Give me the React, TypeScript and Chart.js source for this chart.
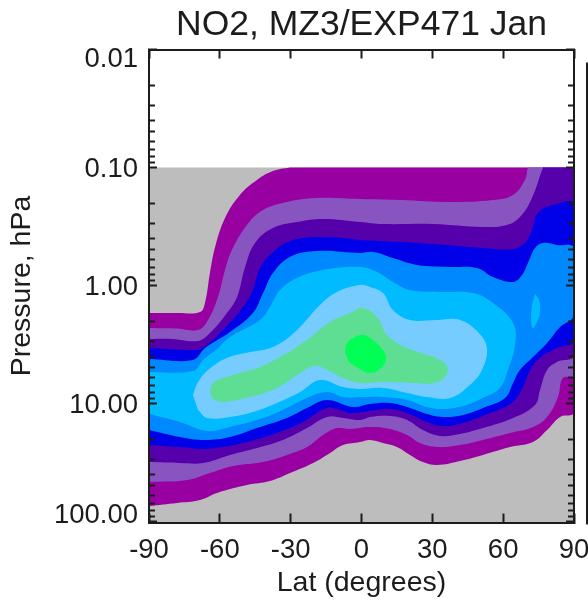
import React, { useEffect, useRef } from "react";
import { Chart, registerables } from "chart.js";

Chart.register(...registerables);

const titleText = "NO2, MZ3/EXP471 Jan";
const xTitle = "Lat (degrees)";
const yTitle = "Pressure, hPa";
const latTicks = [-90, -60, -30, 0, 30, 60, 90];
const latLabels = ["-90", "-60", "-30", "0", "30", "60", "90"];
const pressureTicks = [0.01, 0.1, 1, 10, 100];
const pressureLabels = ["0.01", "0.10", "1.00", "10.00", "100.00"];
const pressureMinor = [0.02, 0.03, 0.04, 0.05, 0.06, 0.07, 0.08, 0.09, 0.2, 0.3, 0.4, 0.5, 0.6, 0.7, 0.8, 0.9, 2, 3, 4, 5, 6, 7, 8, 9, 20, 30, 40, 50, 60, 70, 80, 90];
const latMin = -90;
const latMax = 90;
const pressureMin = 0.01;
const pressureMax = 102;

const noDataLat = [-90, 90, 90, -90];
const noDataLogP = [-1, -1, 2.01, 2.01];

const level1Lat = [-90, -78, -68.4, -66.3, -64.2, -62, -57.8, -51.5, -44.3, -37.5, -30.3, -29.5, 70.5, 88, 90, 90, 90, 84.1, 78.6, 72.6, 62.9, 51.4, 41.7, 32, 26, 20.5, 15, 9.1, 3.6, -0.6, -7.8, -13.3, -20.5, -30.3, -38.8, -48.5, -61.2, -68.4, -78.1, -90];
const level1LogP = [0.233, 0.233, 0.225, 0.148, -0.106, -0.326, -0.572, -0.767, -0.894, -0.97, -1, -1, -1, -1, -1, -0.97, 1.072, 1.114, 1.225, 1.326, 1.369, 1.436, 1.487, 1.521, 1.496, 1.436, 1.369, 1.335, 1.309, 1.326, 1.352, 1.419, 1.504, 1.589, 1.657, 1.691, 1.758, 1.818, 1.843, 1.869];

const level2Lat = [-90, -78, -69.2, -65, -60.8, -57.8, -54.9, -48.5, -41.7, -31.6, -18.9, -0.6, 16.3, 37.5, 55.7, 64.2, 69.2, 70.5, 71, 88, 90, 90, 90, 85.3, 83.2, 78.6, 72.6, 62.9, 51.4, 41.7, 32, 24.8, 19.3, 12.1, 3.6, -4.9, -10.4, -16.3, -23.1, -31.6, -41.7, -54.4, -64.2, -73.9, -90];
const level2LogP = [0.36, 0.365, 0.377, 0.292, 0.097, -0.131, -0.301, -0.513, -0.64, -0.708, -0.742, -0.733, -0.725, -0.708, -0.725, -0.767, -0.894, -1, -1, -1, -1, -0.97, 0.758, 0.784, 0.945, 1.114, 1.199, 1.25, 1.309, 1.352, 1.369, 1.335, 1.267, 1.216, 1.199, 1.216, 1.208, 1.267, 1.369, 1.436, 1.496, 1.53, 1.589, 1.648, 1.665];

const level3Lat = [-90, -80, -69.2, -64.2, -57, -52.7, -49.3, -45.1, -37.5, -27.3, -16.3, -0.6, 9.1, 30.3, 51.4, 61.6, 67.1, 72.2, 76.9, 77.5, 88, 90, 90, 90, 82.8, 78.6, 75.6, 73.5, 64.2, 51.4, 41.7, 33.2, 26, 19.3, 12.1, 3.6, -0.6, -7.8, -14.6, -23.1, -33.3, -44.3, -55.7, -67.1, -76.9, -90];
const level3LogP = [0.453, 0.453, 0.47, 0.403, 0.233, 0.097, -0.157, -0.36, -0.487, -0.538, -0.564, -0.538, -0.521, -0.521, -0.496, -0.513, -0.58, -0.742, -1, -1, -1, -1, -0.97, 0.589, 0.648, 0.716, 0.886, 1.013, 1.123, 1.208, 1.258, 1.275, 1.225, 1.14, 1.106, 1.114, 1.14, 1.123, 1.114, 1.208, 1.309, 1.377, 1.436, 1.504, 1.504, 1.496];

const level4Lat = [-90, -71.4, -67.1, -58.7, -50.2, -46, -43, -37.5, -29, -14.6, -0.6, 9.1, 30.3, 51.4, 64.2, 69.2, 72.2, 74.7, 81.1, 90, 90, 82.8, 75.6, 71.4, 68.4, 64.2, 54.4, 43, 34.5, 27.7, 19.3, 12.1, 3.6, -4.9, -9, -14.6, -24.8, -35.8, -48.5, -58.7, -67.1, -76.9, -90];
const level4LogP = [0.53, 0.547, 0.53, 0.377, 0.182, 0.038, -0.148, -0.284, -0.386, -0.411, -0.386, -0.377, -0.352, -0.318, -0.309, -0.36, -0.47, -0.614, -0.682, -0.69, 0.462, 0.53, 0.614, 0.716, 0.86, 0.987, 1.081, 1.165, 1.191, 1.157, 1.081, 1.047, 1.064, 1.081, 1.055, 1.038, 1.157, 1.25, 1.326, 1.369, 1.386, 1.369, 1.352];

const level5Lat = [-90, -71.4, -66.3, -55.7, -46, -41.7, -37.5, -30.3, -18.9, -0.6, 4.9, 13.3, 23.5, 37.5, 48.9, 55.7, 64.2, 68, 70.5, 73.5, 76.9, 82.8, 90, 90, 84.1, 78.6, 72.2, 67.1, 64.2, 60.8, 51.4, 43, 34.5, 27.7, 20.5, 12.1, 3.6, -3.6, -14.6, -23.1, -31.6, -44.3, -55.7, -66.3, -76.9, -90];
const level5LogP = [0.623, 0.631, 0.53, 0.394, 0.233, 0.064, -0.106, -0.242, -0.292, -0.275, -0.284, -0.233, -0.174, -0.157, -0.148, -0.072, -0.03, -0.089, -0.191, -0.318, -0.36, -0.343, -0.318, 0.25, 0.352, 0.487, 0.614, 0.716, 0.826, 0.953, 1.038, 1.097, 1.114, 1.089, 1.038, 0.996, 1.004, 1.03, 0.97, 1.038, 1.123, 1.208, 1.284, 1.309, 1.284, 1.225];

const level6Lat = [-90, -71.4, -67.1, -61.2, -55.7, -43, -38.8, -34.5, -27.3, -16.3, -0.6, 6.6, 13.3, 20.5, 33.2, 47.2, 55.7, 64.2, 65, 62, 58.6, 51.4, 43, 34.5, 27.7, 19.3, 9.1, -0.6, -7.8, -14.6, -23.1, -31.6, -41.7, -55.7, -65.4, -76.9, -90];
const level6LogP = [0.733, 0.725, 0.631, 0.538, 0.436, 0.292, 0.182, 0.038, -0.064, -0.131, -0.157, -0.114, -0.03, 0.038, 0.055, 0.064, 0.148, 0.318, 0.504, 0.716, 0.869, 0.953, 1.021, 1.047, 1.03, 0.97, 0.945, 0.945, 0.945, 0.903, 0.953, 1.038, 1.123, 1.199, 1.233, 1.157, 1.089];

const islandLat = [73.5, 75.2, 75.6, 74.3, 72.6, 71.8, 72.2];
const islandLogP = [0.072, 0.123, 0.225, 0.309, 0.36, 0.275, 0.165];

const level7Lat = [-71.4, -69.2, -65, -57, -47.2, -37.5, -28.2, -17.6, -10.4, -0.6, 3.6, 9.1, 13.3, 20.5, 32, 41.7, 49.3, 53.1, 51, 45.9, 37.5, 27.7, 19.3, 9.1, -0.6, -7.8, -17.6, -26, -35.8, -46, -55.7, -65.4, -69.2];
const level7LogP = [0.928, 0.818, 0.716, 0.614, 0.564, 0.521, 0.394, 0.165, 0.055, -0.004, 0.013, 0.064, 0.208, 0.292, 0.292, 0.292, 0.394, 0.53, 0.716, 0.843, 0.953, 0.945, 0.911, 0.869, 0.877, 0.86, 0.801, 0.903, 0.996, 1.072, 1.114, 1.123, 1.055];

const level8Lat = [-64.2, -62.9, -54.4, -44.3, -34.5, -23.1, -13.3, -4.9, 0.6, 6.6, 10.8, 19.3, 33.2, 36.6, 32.4, 21.8, 9.1, -0.6, -7.8, -14.6, -19.7, -27.3, -35.8, -47.2, -58.7, -62.9];
const level8LogP = [0.911, 0.826, 0.758, 0.699, 0.606, 0.462, 0.309, 0.233, 0.191, 0.267, 0.419, 0.53, 0.631, 0.716, 0.818, 0.826, 0.818, 0.826, 0.784, 0.716, 0.682, 0.758, 0.869, 0.945, 0.987, 0.962];

const level9Lat = [-7, -6.1, -2.8, 1.1, 5.3, 8.7, 10.4, 8.7, 4, -1.5, -5.3];
const level9LogP = [0.564, 0.487, 0.436, 0.419, 0.47, 0.538, 0.614, 0.691, 0.742, 0.699, 0.648];

const regionLats = [noDataLat, level1Lat, level2Lat, level3Lat, level4Lat, level5Lat, level6Lat, islandLat, level7Lat, level8Lat, level9Lat];
const regionLogPs = [noDataLogP, level1LogP, level2LogP, level3LogP, level4LogP, level5LogP, level6LogP, islandLogP, level7LogP, level8LogP, level9LogP];
const regionColors = ["#bdbdbd", "#9900a1", "#8855c0", "#5500aa", "#0000e8", "#0088ff", "#00bbff", "#00bbff", "#77ccff", "#5dde92", "#00ff55"];

const ink = "#1c1c1c";
const family = "'Liberation Sans', Arial, sans-serif";

function onlyTicks(values: number[]) {
  return (scale: any) => {
    scale.ticks = values.map((value) => ({ value }));
  };
}

function labelFor(values: number[], labels: string[], wrap: boolean) {
  return (value: any) => {
    const i = values.indexOf(Number(value));
    if (i < 0) return "";
    if (wrap && i === 0) return ["", labels[i]];
    if (wrap && i === labels.length - 1) return [labels[i], ""];
    return labels[i];
  };
}

function fitBox(width: number | null, height: number | null) {
  return (s: any) => {
    if (width !== null) s.width = width;
    if (height !== null) s.height = height;
    s.paddingLeft = 0;
    s.paddingRight = 0;
    s.paddingTop = 0;
    s.paddingBottom = 0;
  };
}

const edgeLine = {
  id: "edgeLine",
  afterDraw(chart: any) {
    const { ctx, chartArea } = chart;
    ctx.save();
    ctx.strokeStyle = ink;
    ctx.lineWidth = 2;
    ctx.beginPath();
    ctx.moveTo(chart.width - 1, chartArea.top + 13);
    ctx.lineTo(chart.width - 1, chartArea.bottom + 2);
    ctx.stroke();
    ctx.restore();
  },
};

export default function App() {
  const ref = useRef<HTMLCanvasElement | null>(null);

  useEffect(() => {
    const canvas = ref.current;
    if (!canvas) return;

    const frame = { display: true, color: ink, width: 2, z: 1 };
    const noFrame = { display: false };
    const marks = (length: number) => ({
      drawOnChartArea: false,
      drawTicks: true,
      tickLength: -length,
      tickColor: ink,
      tickWidth: 2,
      z: 1,
    });
    const pressureRange = { type: "logarithmic", reverse: true, min: pressureMin, max: pressureMax };
    const latRange = { type: "linear", min: latMin, max: latMax };
    const hiddenTicks = { display: false, autoSkip: false };

    const chart = new Chart(canvas, {
      type: "scatter",
      data: {
        datasets: regionLats.map((lats, i) => ({
          data: lats.map((lat, j) => ({ x: lat, y: Math.pow(10, regionLogPs[i][j]) })),
          showLine: true,
          fill: "shape",
          backgroundColor: regionColors[i],
          borderWidth: 0,
          pointRadius: 0,
          tension: i === 0 ? 0 : 0.4,
          order: regionLats.length - i,
        })),
      },
      plugins: [edgeLine],
      options: {
        responsive: false,
        animation: false,
        layout: { padding: 0 },
        plugins: { legend: { display: false }, title: { display: false }, tooltip: { enabled: false } },
        scales: {
          x: {
            ...latRange,
            position: "bottom",
            afterBuildTicks: onlyTicks(latTicks),
            afterFit: fitBox(null, 77.5),
            border: frame,
            grid: marks(9),
            title: { display: true, text: xTitle, color: ink, font: { family, size: 28.5 }, padding: { top: 0, bottom: 0 } },
            ticks: {
              z: 1,
              autoSkip: false,
              maxRotation: 0,
              color: ink,
              padding: 20,
              font: { family, size: 27.5 },
              callback: labelFor(latTicks, latLabels, false),
            },
          },
          xTop: {
            ...latRange,
            position: "top",
            afterBuildTicks: onlyTicks(latTicks),
            afterFit: fitBox(null, 49.5),
            border: frame,
            grid: marks(9),
            title: { display: true, text: titleText, color: ink, font: { family, size: 35.5 }, padding: { top: 3.5, bottom: 0 } },
            ticks: hiddenTicks,
          },
          y: {
            ...pressureRange,
            position: "left",
            weight: 1,
            afterBuildTicks: onlyTicks(pressureTicks),
            afterFit: fitBox(149, null),
            border: frame,
            grid: marks(8),
            title: { display: true, text: yTitle, color: ink, font: { family, size: 28.5 }, padding: { top: 5, bottom: 0 } },
            ticks: {
              z: 1,
              autoSkip: false,
              color: ink,
              padding: 19,
              labelOffset: 2,
              font: { family, size: 27.5, lineHeight: "16px" },
              callback: labelFor(pressureTicks, pressureLabels, true),
            },
          },
          yMinor: {
            ...pressureRange,
            position: "left",
            weight: 0,
            afterBuildTicks: onlyTicks(pressureMinor),
            afterFit: fitBox(0, null),
            border: noFrame,
            grid: marks(6),
            ticks: hiddenTicks,
          },
          yRight: {
            ...pressureRange,
            position: "right",
            weight: 1,
            afterBuildTicks: onlyTicks(pressureTicks),
            afterFit: fitBox(14, null),
            border: frame,
            grid: marks(8),
            ticks: hiddenTicks,
          },
          yRightMinor: {
            ...pressureRange,
            position: "right",
            weight: 0,
            afterBuildTicks: onlyTicks(pressureMinor),
            afterFit: fitBox(0, null),
            border: noFrame,
            grid: marks(6),
            ticks: hiddenTicks,
          },
        },
      },
    } as any);

    return () => chart.destroy();
  }, []);

  return (
    <canvas
      ref={ref}
      width={588}
      height={600}
      style={{ position: "absolute", left: 0, top: 0, display: "block", filter: "blur(0.5px)" }}
    />
  );
}
